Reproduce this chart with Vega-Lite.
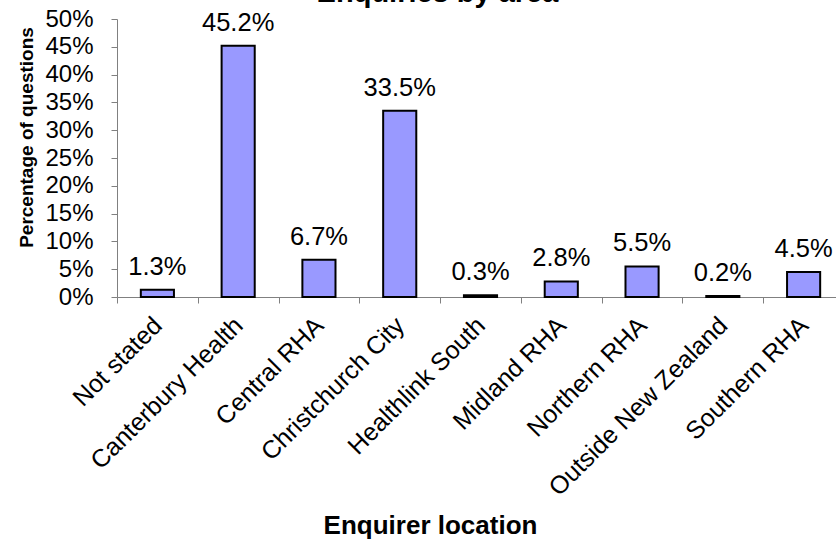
{
  "$schema": "https://vega.github.io/schema/vega-lite/v6.json",
  "autosize": "none",
  "width": 727,
  "height": 278,
  "padding": {"left": 117, "top": 19, "right": 0, "bottom": 243},
  "background": "white",
  "title": {
    "text": "Enquiries by area",
    "font": "Liberation Sans",
    "fontSize": 29,
    "fontWeight": "bold",
    "color": "black",
    "anchor": "middle",
    "dx": -43,
    "baseline": "alphabetic",
    "offset": -24
  },
  "config": {
    "view": {"stroke": null},
    "font": "Liberation Sans"
  },
  "data": {
    "values": [
      {"area": "Not stated", "pct": 0.013},
      {"area": "Canterbury Health", "pct": 0.452},
      {"area": "Central RHA", "pct": 0.067},
      {"area": "Christchurch City", "pct": 0.335},
      {"area": "Healthlink South", "pct": 0.003},
      {"area": "Midland RHA", "pct": 0.028},
      {"area": "Northern RHA", "pct": 0.055},
      {"area": "Outside New Zealand", "pct": 0.002},
      {"area": "Southern RHA", "pct": 0.045}
    ]
  },
  "encoding": {
    "x": {
      "field": "area",
      "type": "nominal",
      "sort": null,
      "scale": {"paddingInner": 0, "paddingOuter": 0},
      "axis": {
        "title": "Enquirer location",
        "titleFont": "Liberation Sans",
        "titleFontSize": 26,
        "titleFontWeight": "bold",
        "titleColor": "black",
        "titleBaseline": "alphabetic",
        "titleX": 313,
        "titleY": 236,
        "titleAnchor": "middle",
        "titleAlign": "center",
        "labelAngle": -45,
        "labelAlign": "right",
        "labelBaseline": "middle",
        "labelFont": "Liberation Sans",
        "labelFontSize": 25,
        "labelColor": "black",
        "labelPadding": 18,
        "labelLimit": 400,
        "labelOverlap": false,
        "tickBand": "extent",
        "tickSize": 6,
        "tickColor": "#808080",
        "domainColor": "#808080",
        "grid": false
      }
    },
    "y": {
      "field": "pct",
      "type": "quantitative",
      "scale": {"domain": [0, 0.5], "nice": false},
      "axis": {
        "title": "Percentage of questions",
        "titleFont": "Liberation Sans",
        "titleFontSize": 19,
        "titleFontWeight": "bold",
        "titleColor": "black",
        "titleAngle": 270,
        "titleBaseline": "alphabetic",
        "titleAlign": "center",
        "titleX": -85,
        "titleY": 118,
        "values": [0, 0.05, 0.1, 0.15, 0.2, 0.25, 0.3, 0.35, 0.4, 0.45, 0.5],
        "format": ".0%",
        "labelFont": "Liberation Sans",
        "labelFontSize": 24,
        "labelColor": "black",
        "labelPadding": 18,
        "labelOverlap": false,
        "tickSize": 6,
        "tickColor": "#808080",
        "domainColor": "#808080",
        "grid": false
      }
    }
  },
  "layer": [
    {
      "mark": {"type": "bar", "width": {"band": 0.41}, "fill": "#9999FF", "stroke": "black", "strokeWidth": 2}
    },
    {
      "mark": {"type": "text", "font": "Liberation Sans", "fontSize": 25.5, "color": "black", "baseline": "alphabetic", "dy": -15},
      "encoding": {
        "text": {"field": "pct", "type": "quantitative", "format": ".1%"}
      }
    }
  ]
}
